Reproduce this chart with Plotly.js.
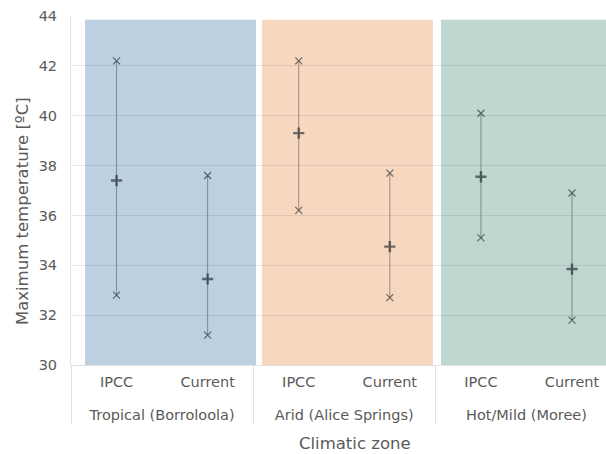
<!DOCTYPE html>
<html>
<head>
<meta charset="utf-8">
<script src="https://cdn.plot.ly/plotly-3.0.1.min.js"></script>
<style>html,body{margin:0;padding:0;background:#fff;} #chart{width:606px;height:454px;}</style>
</head>
<body>
<div id="chart"></div>
<script>
// ---- data ----
const zones = ['Tropical (Borroloola)', 'Tropical (Borroloola)', 'Arid (Alice Springs)', 'Arid (Alice Springs)', 'Hot/Mild (Moree)', 'Hot/Mild (Moree)'];
const scenarios = ['IPCC', 'Current', 'IPCC', 'Current', 'IPCC', 'Current'];
const maxTemp = [42.2, 37.6, 42.2, 37.7, 40.1, 36.9];
const meanTemp = [37.4, 33.45, 39.3, 34.75, 37.55, 33.85];
const minTemp = [32.8, 31.2, 36.2, 32.7, 35.1, 31.8];
const yTicks = [30, 32, 34, 36, 38, 40, 42, 44];

const FONT = 'DejaVu Sans, Verdana, sans-serif';
const TEXT = '#5a5a5a';

// leading line break only adds vertical room between the two label rows
const zoneLabel = z => '<br>' + z;

const traces = zones.map((z, i) => ({
  type: 'scatter',
  mode: 'lines+markers',
  x: [[zoneLabel(z), zoneLabel(z), zoneLabel(z)], [scenarios[i], scenarios[i], scenarios[i]]],
  y: [minTemp[i], meanTemp[i], maxTemp[i]],
  line: {color: 'rgba(40,50,60,0.45)', width: 1},
  marker: {
    symbol: ['x-thin', 'cross-thin', 'x-thin'],
    size: [7, 8, 7],
    color: 'rgba(20,30,40,0.85)',
    line: {color: 'rgba(20,30,40,0.85)', width: [1.2, 2.4, 1.2]}
  },
  showlegend: false,
  hoverinfo: 'y'
}));

const bandColors = ['#bdd0e2', '#f8d7c1', '#bfd7ce'];
const bandEdges = [[0.0262, 0.3458], [0.357, 0.6766], [0.6916, 1.0]];
const shapes = bandEdges.map((e, i) => ({
  type: 'rect', layer: 'below', xref: 'paper', yref: 'y',
  x0: e[0], x1: e[1], y0: 30, y1: 43.85,
  fillcolor: bandColors[i], line: {width: 0}
}));

const layout = {
  width: 606, height: 454,
  margin: {l: 71, r: 0, t: 16, b: 89},
  paper_bgcolor: '#fff', plot_bgcolor: '#fff',
  font: {family: FONT, color: TEXT, size: 14.5},
  xaxis: {
    type: 'multicategory',
    range: [-0.5, 5.373],
    showgrid: false,
    showline: true, linecolor: '#e2e2e2', linewidth: 1,
    showdividers: true, dividercolor: '#e2e2e2', dividerwidth: 1,
    tickfont: {family: FONT, size: 14.5, color: TEXT},
    ticks: '',
    ticklabelstandoff: 4
  },
  yaxis: {
    range: [30, 44],
    tickvals: yTicks,
    ticktext: yTicks.map(String),
    showgrid: true, gridcolor: 'rgba(0,0,0,0.085)', gridwidth: 1,
    zeroline: false,
    showline: true, linecolor: '#e2e2e2', linewidth: 1,
    ticks: 'outside', ticklen: 10, tickcolor: 'rgba(0,0,0,0)',
    tickfont: {family: FONT, size: 14.5, color: TEXT}
  },
  shapes: shapes,
  annotations: [
    {text: 'Maximum temperature [ºC]', xref: 'paper', yref: 'paper',
     x: -0.0916, y: 0.441, textangle: -90, showarrow: false,
     xanchor: 'center', yanchor: 'middle',
     font: {family: FONT, size: 16.5, color: TEXT}},
    {text: 'Climatic zone', xref: 'paper', yref: 'paper',
     x: 0.531, y: -0.2235, showarrow: false,
     xanchor: 'center', yanchor: 'middle',
     font: {family: FONT, size: 16.5, color: TEXT}}
  ]
};

Plotly.newPlot('chart', traces, layout, {displayModeBar: false, staticPlot: true});
</script>
</body>
</html>
